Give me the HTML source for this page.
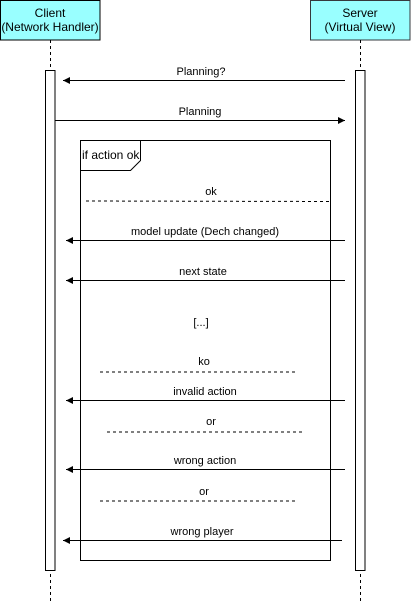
<!DOCTYPE html>
<html><head><meta charset="utf-8"><style>
html,body{margin:0;padding:0;background:#fff;}
svg{display:block;}
text{font-family:"Liberation Sans",Arial,sans-serif;font-size:11px;fill:#000;}
</style></head><body>
<svg width="411" height="601" viewBox="0 0 411 601" xmlns="http://www.w3.org/2000/svg">
<defs>
<marker id="a" markerWidth="8" markerHeight="8" refX="7" refY="4" orient="auto" markerUnits="userSpaceOnUse">
<path d="M0,0.5 L7,4 L0,7.5 Z" fill="#000"/>
</marker>
</defs>
<!-- headers -->
<rect x="0.5" y="0.5" width="99.5" height="39.5" fill="#99ffff" stroke="#000"/>
<text x="50" y="17" text-anchor="middle" style="font-size:12px">Client</text>
<text x="50" y="31" text-anchor="middle" style="font-size:12px">(Network Handler)</text>
<rect x="310.5" y="0.5" width="99.5" height="39.5" fill="#99ffff" stroke="#36393d"/>
<text x="360" y="17" text-anchor="middle" style="font-size:12px">Server</text>
<text x="360" y="31" text-anchor="middle" style="font-size:12px">(Virtual View)</text>
<!-- lifelines -->
<line x1="50.5" y1="40" x2="50.5" y2="601" stroke="#000" stroke-dasharray="3,3"/>
<line x1="360.5" y1="40" x2="360.5" y2="601" stroke="#000" stroke-dasharray="3,3"/>
<rect x="45.5" y="70.5" width="9.5" height="500" fill="#fff" stroke="#000"/>
<rect x="355.5" y="70.5" width="9.5" height="500" fill="#fff" stroke="#000"/>
<!-- frame -->
<rect x="80.5" y="140.5" width="250" height="420" fill="#fff" stroke="#000"/>
<path d="M80.5,170.5 L130.5,170.5 L140.5,160.5 L140.5,140.5" fill="none" stroke="#000"/>
<text x="82" y="159" style="font-size:12px">if action ok</text>
<!-- messages -->
<line x1="345" y1="80.5" x2="63" y2="80.5" stroke="#000" marker-end="url(#a)"/>
<text x="201" y="75" text-anchor="middle">Planning?</text>
<line x1="55" y1="120.5" x2="345" y2="120.5" stroke="#000" marker-end="url(#a)"/>
<text x="200" y="115" text-anchor="middle">Planning</text>
<line x1="86" y1="201" x2="330" y2="201.5" stroke="#000" stroke-dasharray="3,3"/>
<text x="211" y="195" text-anchor="middle">ok</text>
<line x1="345" y1="240.5" x2="66" y2="240.5" stroke="#000" marker-end="url(#a)"/>
<text x="205" y="235" text-anchor="middle">model update (Dech changed)</text>
<line x1="345" y1="280.5" x2="66" y2="280.5" stroke="#000" marker-end="url(#a)"/>
<text x="203" y="275" text-anchor="middle">next state</text>
<text x="201" y="326" text-anchor="middle">[...]</text>
<line x1="100" y1="372" x2="296" y2="372" stroke="#000" stroke-dasharray="3,3"/>
<text x="204" y="365" text-anchor="middle">ko</text>
<line x1="345" y1="400.5" x2="66" y2="400.5" stroke="#000" marker-end="url(#a)"/>
<text x="205" y="395" text-anchor="middle">invalid action</text>
<line x1="107" y1="432" x2="302" y2="432" stroke="#000" stroke-dasharray="3,3"/>
<text x="211" y="425" text-anchor="middle">or</text>
<line x1="345" y1="469.5" x2="66" y2="469.5" stroke="#000" marker-end="url(#a)"/>
<text x="205" y="464" text-anchor="middle">wrong action</text>
<line x1="100" y1="501" x2="296" y2="501" stroke="#000" stroke-dasharray="3,3"/>
<text x="204" y="495" text-anchor="middle">or</text>
<line x1="342" y1="540.5" x2="63" y2="540.5" stroke="#000" marker-end="url(#a)"/>
<text x="202" y="535" text-anchor="middle">wrong player</text>
</svg>
</body></html>
